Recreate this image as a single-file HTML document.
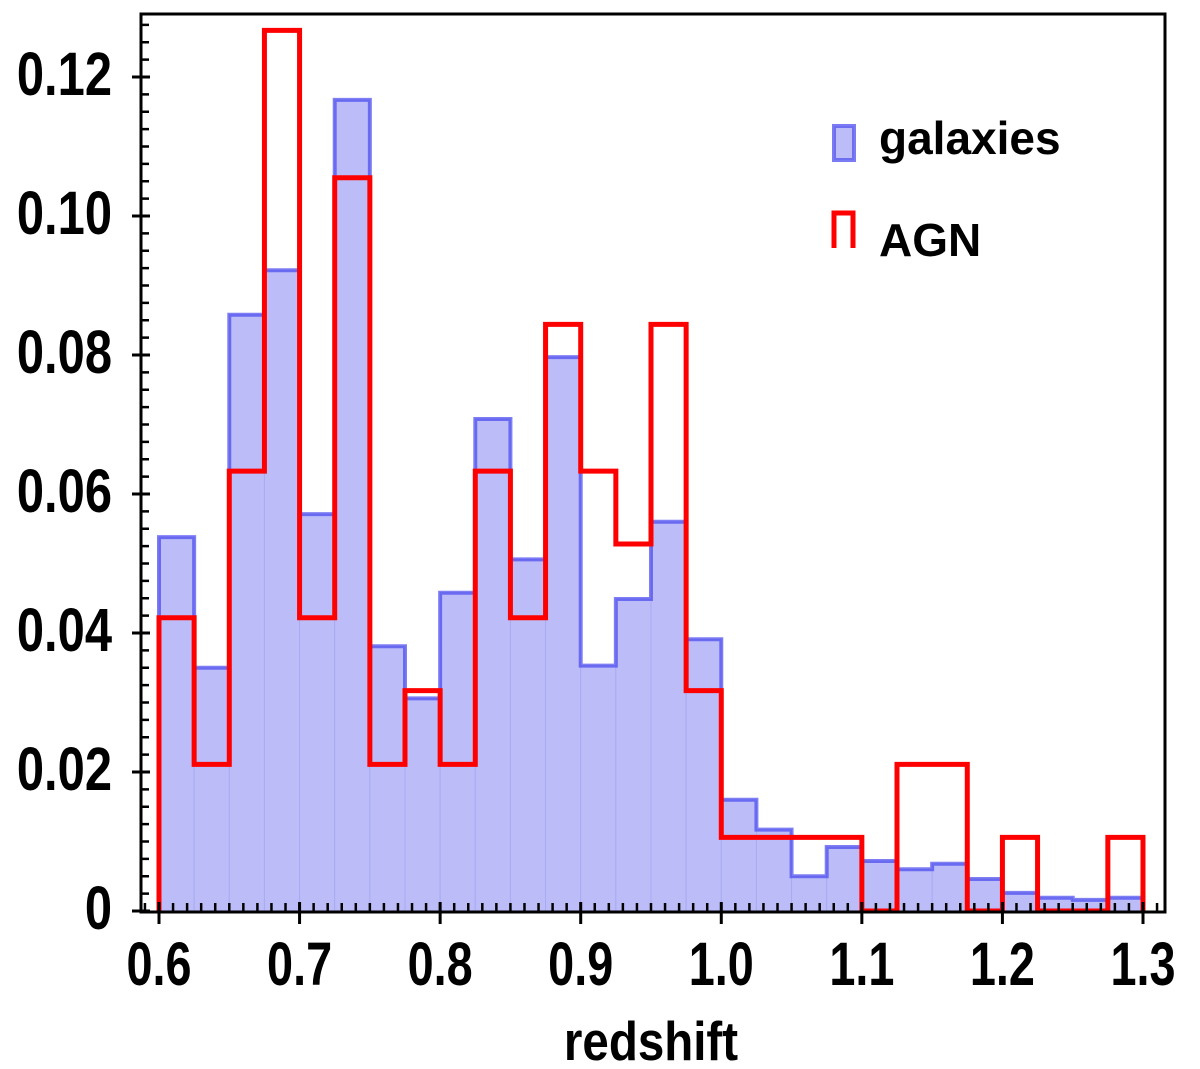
<!DOCTYPE html>
<html><head><meta charset="utf-8"><style>
html,body{margin:0;padding:0;background:#fff}
svg{display:block}
text{font-family:"Liberation Sans",sans-serif;font-weight:bold;fill:#000}
</style></head><body>
<svg id="chart" width="1200" height="1069" viewBox="0 0 1200 1069" xmlns="http://www.w3.org/2000/svg">
<g id="plot"></g>
<g id="axes"></g>
<g id="legend">
  <rect x="834" y="126" width="20" height="34" fill="#bcbdf8" stroke="#5a5af0" stroke-width="4" stroke-opacity="0.8"/>
  <text x="879" y="154" font-size="46">galaxies</text>
  <path d="M834,248 L834,213 L853,213 L853,248" fill="none" stroke="#f00" stroke-width="5"/>
  <text x="879" y="256" font-size="46">AGN</text>
</g>
</svg>
<script>
const binEdgesStart = 0.6;
const binWidth = 0.025;
const galaxies = [0.0538,0.035,0.0858,0.0922,0.0571,0.1167,0.0381,0.0306,0.0458,0.0708,0.0506,0.0797,0.0353,0.0449,0.056,0.0391,0.016,0.0117,0.005,0.0092,0.0072,0.006,0.0068,0.0046,0.0026,0.0019,0.0016,0.0019];
const agn = [0.0422,0.0211,0.0633,0.1267,0.0422,0.1055,0.0211,0.0317,0.0211,0.0633,0.0422,0.0844,0.0633,0.0528,0.0844,0.0317,0.0106,0.0106,0.0106,0.0106,0,0.0211,0.0211,0,0.0106,0,0,0.0106];
const xTicks = [0.6,0.7,0.8,0.9,1.0,1.1,1.2,1.3];
const xTickLabels = ["0.6","0.7","0.8","0.9","1.0","1.1","1.2","1.3"];
const yTicks = [0,0.02,0.04,0.06,0.08,0.10,0.12];
const yTickLabels = ["0","0.02","0.04","0.06","0.08","0.10","0.12"];

const NS="http://www.w3.org/2000/svg";
const L=141,R=1165,T=14,B=912;
const X=v=>159+(v-0.6)*1405.7;
const Y=v=>911-v*6950;
function mk(tag,attrs,parent){const e=document.createElementNS(NS,tag);for(const k in attrs)e.setAttribute(k,attrs[k]);parent.appendChild(e);return e;}
const plot=document.getElementById('plot'), axes=document.getElementById('axes');

galaxies.forEach((v,i)=>{
  const x0=X(binEdgesStart+i*binWidth), x1=X(binEdgesStart+(i+1)*binWidth);
  const r=mk('rect',{x:x0,y:Y(v),width:x1-x0,height:Y(0)-Y(v),fill:'#bcbdf8',stroke:'#a9aaf2','stroke-width':1},plot);
  
  
});
let d='M'+X(binEdgesStart)+','+Y(0);
galaxies.forEach((v,i)=>{d+=' L'+X(binEdgesStart+i*binWidth)+','+Y(v)+' L'+X(binEdgesStart+(i+1)*binWidth)+','+Y(v);});
d+=' L'+X(binEdgesStart+galaxies.length*binWidth)+','+Y(0);
const go=mk('path',{d:d,fill:'none',stroke:'#4848f0','stroke-width':4,'stroke-opacity':0.7},plot);


let d2='M'+X(binEdgesStart)+','+Y(0);
agn.forEach((v,i)=>{d2+=' L'+X(binEdgesStart+i*binWidth)+','+Y(v)+' L'+X(binEdgesStart+(i+1)*binWidth)+','+Y(v);});
d2+=' L'+X(binEdgesStart+agn.length*binWidth)+','+Y(0);
const ao=mk('path',{d:d2,fill:'none',stroke:'#ff0000','stroke-width':5},plot);



const fr=mk('rect',{x:L,y:T,width:R-L,height:B-T,fill:'none',stroke:'#000','stroke-width':3},axes);


for(let k=0;k<=75;k++){const v=0.59+k*0.01;const x=X(v);if(x<L||x>R)continue;
  const t=mk('line',{x1:x,x2:x,y1:B,y2:B-9,stroke:'#000','stroke-width':2.5},axes);
  
  }
xTicks.forEach((v,i)=>{const x=X(v);
  const t=mk('line',{x1:x,x2:x,y1:B-10,y2:B+12,stroke:'#000','stroke-width':3},axes);
  
  
  const tx=mk('text',{x:0,y:0,'font-size':52,'text-anchor':'middle',transform:'translate('+x+',985) scale(0.9,1.17)'},axes);tx.textContent=xTickLabels[i];
  
  });
for(let k=0;k<=52;k++){const v=k*0.0025;const y=Y(v);if(y<T+3)continue;
  const t=mk('line',{x1:L,x2:L+8,y1:y,y2:y,stroke:'#000','stroke-width':2.5},axes);
  
  }
yTicks.forEach((v,i)=>{const y=Y(v);
  const t=mk('line',{x1:L-9,x2:L+9,y1:y,y2:y,stroke:'#000','stroke-width':3},axes);
  
  
  const tx=mk('text',{x:0,y:0,'font-size':52,'text-anchor':'end',transform:'translate(112,'+(y+18)+') scale(0.94,1.17)'},axes);tx.textContent=yTickLabels[i];
  
  });
const xl=mk('text',{x:0,y:0,'font-size':50,'text-anchor':'middle',transform:'translate(651,1060) scale(0.95,1.1)'},axes);xl.textContent='redshift';


</script>
</body></html>
